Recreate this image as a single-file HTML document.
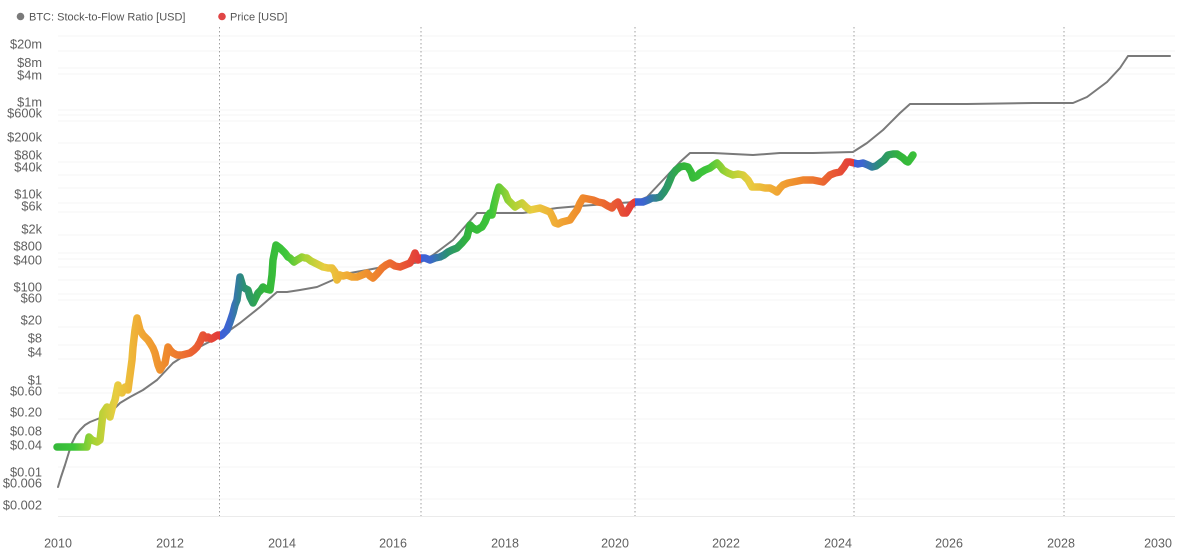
<!DOCTYPE html>
<html>
<head>
<meta charset="utf-8">
<style>
  html,body{margin:0;padding:0;background:#fff;}
  svg{display:block;}
  text{font-family:"Liberation Sans","DejaVu Sans",sans-serif;}
</style>
</head>
<body>
<svg width="1200" height="559" viewBox="0 0 1200 559" xmlns="http://www.w3.org/2000/svg">
  <defs>
    <linearGradient id="g" gradientUnits="userSpaceOnUse" x1="0" y1="0" x2="1200" y2="0">
      <!-- cycle 1 -->
      <stop offset="0.0017" stop-color="#3d5fd9"/>
      <stop offset="0.0089" stop-color="#3d66cf"/>
      <stop offset="0.0235" stop-color="#2b8f74"/>
      <stop offset="0.0417" stop-color="#33b53a"/>
      <stop offset="0.0616" stop-color="#3ec63a"/>
      <stop offset="0.0780" stop-color="#a6d334"/>
      <stop offset="0.0962" stop-color="#e8cd40"/>
      <stop offset="0.1143" stop-color="#f0ae36"/>
      <stop offset="0.1379" stop-color="#ef8a2c"/>
      <stop offset="0.1615" stop-color="#ea6132"/>
      <stop offset="0.1833" stop-color="#e2393a"/>
      <!-- cycle 2 -->
      <stop offset="0.1833" stop-color="#3d5fd9"/>
      <stop offset="0.1900" stop-color="#3d66cf"/>
      <stop offset="0.2034" stop-color="#2b8f74"/>
      <stop offset="0.2202" stop-color="#33b53a"/>
      <stop offset="0.2386" stop-color="#3ec63a"/>
      <stop offset="0.2537" stop-color="#a6d334"/>
      <stop offset="0.2704" stop-color="#e8cd40"/>
      <stop offset="0.2872" stop-color="#f0ae36"/>
      <stop offset="0.3090" stop-color="#ef8a2c"/>
      <stop offset="0.3308" stop-color="#ea6132"/>
      <stop offset="0.3508" stop-color="#e2393a"/>
      <!-- cycle 3 -->
      <stop offset="0.3508" stop-color="#3d5fd9"/>
      <stop offset="0.3580" stop-color="#3d66cf"/>
      <stop offset="0.3723" stop-color="#2b8f74"/>
      <stop offset="0.3901" stop-color="#33b53a"/>
      <stop offset="0.4097" stop-color="#3ec63a"/>
      <stop offset="0.4258" stop-color="#a6d334"/>
      <stop offset="0.4436" stop-color="#e8cd40"/>
      <stop offset="0.4614" stop-color="#f0ae36"/>
      <stop offset="0.4846" stop-color="#ef8a2c"/>
      <stop offset="0.5078" stop-color="#ea6132"/>
      <stop offset="0.5292" stop-color="#e2393a"/>
      <!-- cycle 4 -->
      <stop offset="0.5292" stop-color="#3d5fd9"/>
      <stop offset="0.5365" stop-color="#3d66cf"/>
      <stop offset="0.5511" stop-color="#2b8f74"/>
      <stop offset="0.5693" stop-color="#33b53a"/>
      <stop offset="0.5894" stop-color="#3ec63a"/>
      <stop offset="0.6058" stop-color="#a6d334"/>
      <stop offset="0.6241" stop-color="#e8cd40"/>
      <stop offset="0.6423" stop-color="#f0ae36"/>
      <stop offset="0.6661" stop-color="#ef8a2c"/>
      <stop offset="0.6898" stop-color="#ea6132"/>
      <stop offset="0.7117" stop-color="#e2393a"/>
      <!-- cycle 5 -->
      <stop offset="0.7117" stop-color="#3d5fd9"/>
      <stop offset="0.7187" stop-color="#3d66cf"/>
      <stop offset="0.7327" stop-color="#2b8f74"/>
      <stop offset="0.7502" stop-color="#33b53a"/>
      <stop offset="0.7694" stop-color="#3ec63a"/>
    </linearGradient>
  </defs>

  <rect x="0" y="0" width="1200" height="559" fill="#fff"/>

  <!-- legend -->
  <circle cx="20.5" cy="16.5" r="3.8" fill="#7a7a7a"/>
  <text x="29" y="20.5" font-size="11" fill="#555">BTC: Stock-to-Flow Ratio [USD]</text>
  <circle cx="222" cy="16.5" r="3.8" fill="#e04545"/>
  <text x="230" y="20.5" font-size="11" fill="#555">Price [USD]</text>

  <!-- horizontal gridlines -->
  <g stroke="#f4f4f4" stroke-width="1">
    <line x1="58" x2="1175" y1="36" y2="36"/>
    <line x1="58" x2="1175" y1="51" y2="51"/>
    <line x1="58" x2="1175" y1="68" y2="68"/>
    <line x1="58" x2="1175" y1="74" y2="74"/>
    <line x1="58" x2="1175" y1="110" y2="110"/>
    <line x1="58" x2="1175" y1="115" y2="115"/>
    <line x1="58" x2="1175" y1="121" y2="121"/>
    <line x1="58" x2="1175" y1="143" y2="143"/>
    <line x1="58" x2="1175" y1="162" y2="162"/>
    <line x1="58" x2="1175" y1="175" y2="175"/>
    <line x1="58" x2="1175" y1="188" y2="188"/>
    <line x1="58" x2="1175" y1="203" y2="203"/>
    <line x1="58" x2="1175" y1="212" y2="212"/>
    <line x1="58" x2="1175" y1="235" y2="235"/>
    <line x1="58" x2="1175" y1="253" y2="253"/>
    <line x1="58" x2="1175" y1="259" y2="259"/>
    <line x1="58" x2="1175" y1="267" y2="267"/>
    <line x1="58" x2="1175" y1="280" y2="280"/>
    <line x1="58" x2="1175" y1="294" y2="294"/>
    <line x1="58" x2="1175" y1="300" y2="300"/>
    <line x1="58" x2="1175" y1="327" y2="327"/>
    <line x1="58" x2="1175" y1="345" y2="345"/>
    <line x1="58" x2="1175" y1="359" y2="359"/>
    <line x1="58" x2="1175" y1="388" y2="388"/>
    <line x1="58" x2="1175" y1="393" y2="393"/>
    <line x1="58" x2="1175" y1="419" y2="419"/>
    <line x1="58" x2="1175" y1="443" y2="443"/>
    <line x1="58" x2="1175" y1="467" y2="467"/>
    <line x1="58" x2="1175" y1="499" y2="499"/>
  </g>
  <line x1="58" x2="1175" y1="516.5" y2="516.5" stroke="#ebebeb" stroke-width="1"/>

  <!-- halving dotted lines -->
  <g stroke="#a0a0a0" stroke-width="1" stroke-dasharray="1.5,2.5">
    <line x1="219.5" x2="219.5" y1="27" y2="516"/>
    <line x1="421" x2="421" y1="27" y2="516"/>
    <line x1="635" x2="635" y1="27" y2="516"/>
    <line x1="854" x2="854" y1="27" y2="516"/>
    <line x1="1064" x2="1064" y1="27" y2="516"/>
  </g>

  <!-- y-axis labels -->
  <g font-size="12.8" fill="#606060" text-anchor="end">
    <text x="42" y="48.5">$20m</text>
    <text x="42" y="67">$8m</text>
    <text x="42" y="79.5">$4m</text>
    <text x="42" y="106.5">$1m</text>
    <text x="42" y="117.5">$600k</text>
    <text x="42" y="141.5">$200k</text>
    <text x="42" y="159.5">$80k</text>
    <text x="42" y="171.5">$40k</text>
    <text x="42" y="198.5">$10k</text>
    <text x="42" y="210.5">$6k</text>
    <text x="42" y="233.5">$2k</text>
    <text x="42" y="250.5">$800</text>
    <text x="42" y="264.5">$400</text>
    <text x="42" y="291.5">$100</text>
    <text x="42" y="302.5">$60</text>
    <text x="42" y="324.5">$20</text>
    <text x="42" y="342.5">$8</text>
    <text x="42" y="356.5">$4</text>
    <text x="42" y="384.5">$1</text>
    <text x="42" y="395.5">$0.60</text>
    <text x="42" y="416.5">$0.20</text>
    <text x="42" y="435.5">$0.08</text>
    <text x="42" y="449.5">$0.04</text>
    <text x="42" y="476.5">$0.01</text>
    <text x="42" y="487.5">$0.006</text>
    <text x="42" y="509.5">$0.002</text>
  </g>

  <!-- x-axis labels -->
  <g font-size="12.5" fill="#606060" text-anchor="middle">
    <text x="58" y="547.5">2010</text>
    <text x="170" y="547.5">2012</text>
    <text x="282" y="547.5">2014</text>
    <text x="393" y="547.5">2016</text>
    <text x="505" y="547.5">2018</text>
    <text x="615" y="547.5">2020</text>
    <text x="726" y="547.5">2022</text>
    <text x="838" y="547.5">2024</text>
    <text x="949" y="547.5">2026</text>
    <text x="1061" y="547.5">2028</text>
    <text x="1158" y="547.5">2030</text>
  </g>

  <!-- stock-to-flow line -->
  <polyline fill="none" stroke="#7a7a7a" stroke-width="2" stroke-linejoin="round" stroke-linecap="round"
    points="58,487 61,477 65,465 69,452 72,443 76,435 80,430 85,425 90,422 100,418 110,413 120,403 130,397 143,390 157,380 173,363 190,352 207,343 220,337 240,323 260,307 277,292 287,292 300,290 317,287 333,280 350,273 367,270 383,267 400,265 421,262 433,255 453,240 477,213 490,213 523,213 557,208 580,206 620,203 635,202 647,197 663,180 680,162 690,153 713,153 753,155 780,153 813,153 853,152 867,143 883,130 900,113 910,104 967,104 1033,103 1073,103 1087,97 1107,82 1120,68 1128,56 1170,56"/>

  <!-- price line -->
  <polyline fill="none" stroke="url(#g)" stroke-width="7.5" stroke-linejoin="round" stroke-linecap="round"
    points="57,447 70,447 87,447 89,437 92,440 97,442 100,440 103,413 107,407 110,417 113,405 115,400 118,385 120,392 122,393 125,387 128,390 130,375 132,360 133,347 135,330 137,318 140,330 143,335 145,337 148,340 150,343 153,348 155,353 158,365 160,370 163,365 165,363 168,347 170,350 173,353 177,355 182,355 186,354 190,353 194,350 197,347 200,342 203,335 206,338 208,337 211,339 213,338 216,336 218,335 220,336 222,335 227,330 230,322 233,313 235,305 237,300 239,285 240,277 243,287 246,289 248,290 250,297 253,303 256,297 258,293 261,290 263,287 266,289 270,290 272,275 273,260 275,250 276,245 280,248 285,253 288,257 290,258 294,262 297,260 302,257 305,258 307,258 311,261 315,263 319,265 323,267 328,268 332,268 335,272 337,280 340,275 343,276 347,275 352,277 357,277 362,275 367,273 370,276 373,278 377,274 382,268 386,265 390,263 395,266 400,267 405,265 410,263 413,258 415,253 418,260 421,258 425,258 430,260 435,258 440,257 444,255 448,252 452,250 457,248 462,243 467,237 470,225 473,228 477,230 480,228 482,227 485,222 487,217 490,213 492,215 494,205 497,193 499,187 500,188 502,190 505,193 508,200 510,202 513,205 515,207 518,205 522,203 526,207 530,210 535,209 540,208 545,210 550,212 553,218 555,223 558,224 562,222 566,221 570,220 574,214 577,210 580,203 583,198 588,199 593,200 598,202 603,203 608,206 612,208 615,204 618,202 620,206 623,213 626,213 628,210 631,205 635,202 638,202 643,202 648,200 652,198 656,198 660,197 664,192 667,187 670,180 672,175 676,170 680,167 684,166 688,167 691,172 693,178 697,176 700,173 705,170 710,168 714,165 717,163 720,166 723,170 728,173 733,175 738,174 743,175 748,180 752,187 756,187 760,187 765,188 770,188 774,190 777,192 780,188 783,185 788,183 793,182 798,181 803,180 808,180 813,180 818,181 823,182 827,178 830,175 835,173 840,172 844,167 847,162 850,162 854,163 858,164 863,163 868,165 872,167 876,166 880,163 884,160 888,155 893,154 897,154 900,156 903,158 906,161 908,162 911,158 913,155"/>
</svg>
</body>
</html>
